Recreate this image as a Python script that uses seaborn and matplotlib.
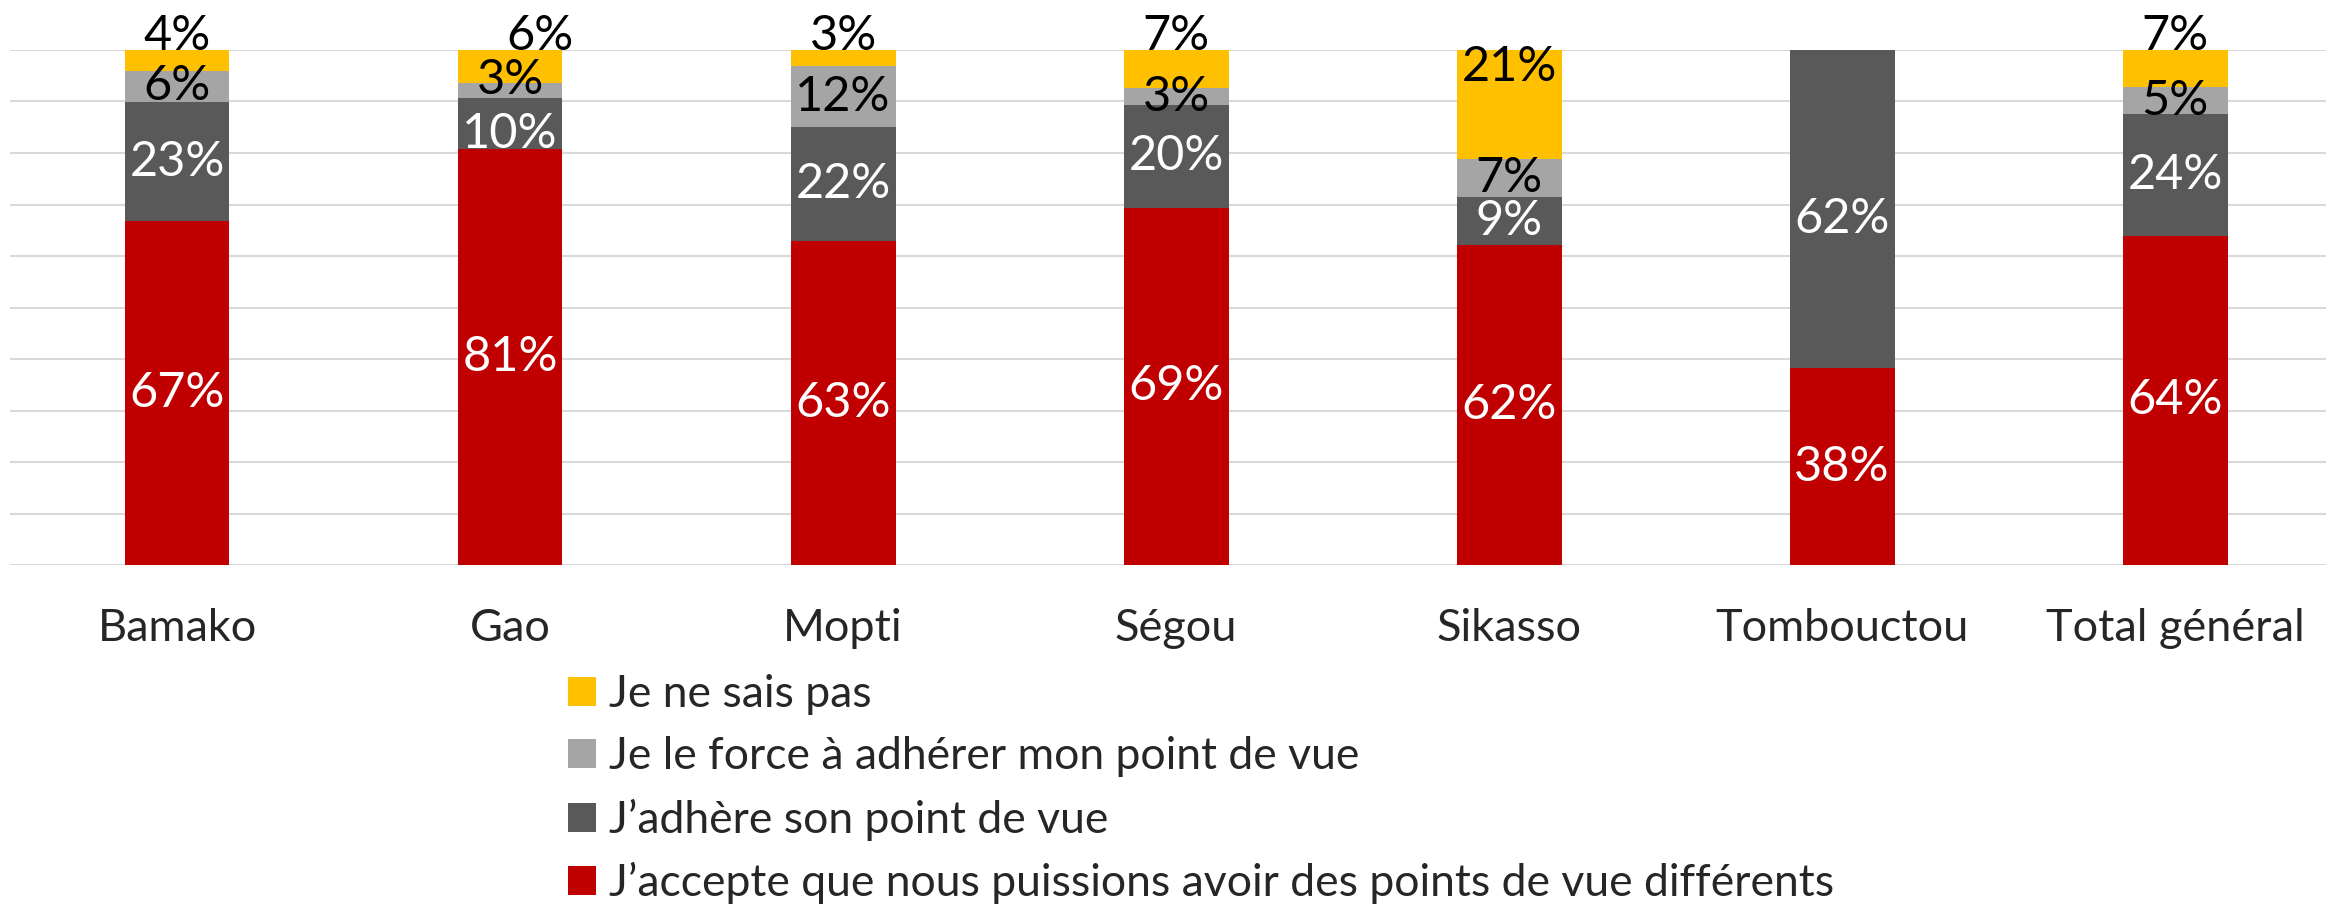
"""Stacked 100% bar chart: reaction to a differing point of view, by region."""

import matplotlib
matplotlib.use("Agg")
import matplotlib.pyplot as plt
from matplotlib.patches import Patch
import numpy as np
import seaborn as sns

regions = ["Bamako", "Gao", "Mopti", "Ségou", "Sikasso", "Tombouctou", "Total général"]
accepte = [66.7, 80.7, 62.9, 69.4, 62.2, 38.2, 63.9]
adhere = [23.2, 10.0, 22.2, 19.9, 9.2, 61.8, 23.6]
force = [6.1, 2.9, 11.7, 3.3, 7.4, 0.0, 5.3]
ne_sais = [4.0, 6.4, 3.2, 7.4, 21.2, 0.0, 7.2]

series_names = [
    "J’accepte que nous puissions avoir des points de vue différents",
    "J’adhère son point de vue",
    "Je le force à adhérer mon point de vue",
    "Je ne sais pas",
]
colors = ["#C00000", "#595959", "#A5A5A5", "#FFC000"]
label_colors = ["white", "white", "black", "black"]

sns.set_style("white")
plt.rcParams["font.family"] = ["Lato", "DejaVu Sans"]

W, H = 2326, 906
fig = plt.figure(figsize=(W / 100, H / 100), dpi=100)
ax = fig.add_axes([10 / W, 1 - 565 / H, 2316 / W, 515 / H])

layers = [np.array(accepte), np.array(adhere), np.array(force), np.array(ne_sais)]
cum = np.cumsum(layers, axis=0)

# draw cumulative heights from the top layer down so lower layers cover them
for i in range(3, -1, -1):
    sns.barplot(x=regions, y=cum[i], color=colors[i], width=0.315,
                saturation=1, linewidth=0, ax=ax, zorder=2)

x = np.arange(len(regions))
for i in range(4):
    bottoms = cum[i] - layers[i]
    for j, v in enumerate(layers[i]):
        if v <= 0:
            continue
        xx, y = x[j], bottoms[j] + v / 2
        thin_force = layers[2][j] < 3
        if i == 3:
            if v < 10:
                # small share: label sits on top of the bar
                y = 102.8
                if thin_force:
                    xx += 0.09
            else:
                y = 100 - 3.3
        elif thin_force and i == 2:
            y += 2
        elif thin_force and i == 1:
            y -= 2
        ax.text(xx, y, f"{v:.0f}%", ha="center", va="center",
                fontsize=35, color=label_colors[i], zorder=4, clip_on=False)

ax.set_ylim(0, 100)
ax.set_xlim(-0.5015, 6.453)
ax.set_yticks(np.arange(0, 101, 10))
ax.set_yticklabels([])
ax.yaxis.grid(True, color="#D9D9D9", linewidth=1.5, zorder=0)
ax.set_axisbelow(True)
for s in ax.spines.values():
    s.set_visible(False)
ax.tick_params(axis="both", length=0)
ax.tick_params(axis="x", labelsize=32.5, pad=31)
ax.tick_params(axis="y", left=False, pad=0)
ax.set_xlabel("")
ax.set_ylabel("")

handles = [Patch(facecolor=colors[i], edgecolor="none", label=series_names[i])
           for i in range(3, -1, -1)]
fig.legend(handles=handles, loc="upper left", bbox_to_anchor=(568 / W, 1 - 674 / H),
           frameon=False, fontsize=32, handlelength=0.62, handleheight=0.62,
           handletextpad=0.3, labelspacing=0.48, borderpad=0, borderaxespad=0)

fig.savefig("out.png", dpi=100)
plt.close(fig)
